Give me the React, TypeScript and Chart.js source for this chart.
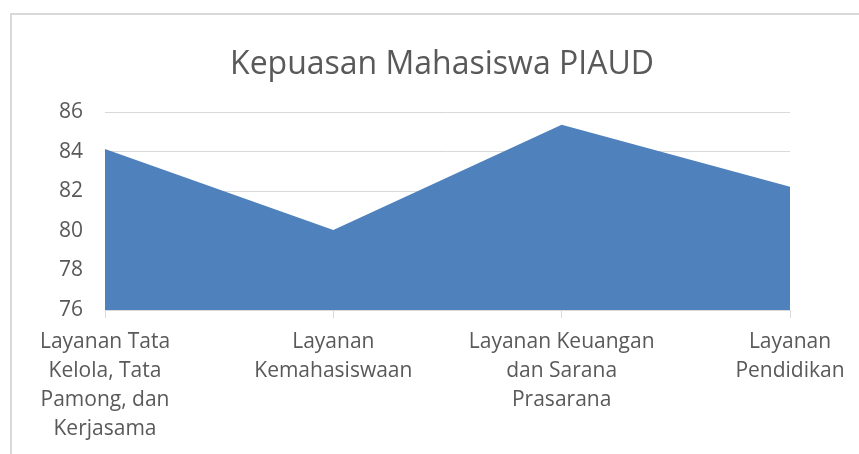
import { useEffect, useRef } from "react";
import { Chart, registerables } from "chart.js";

Chart.register(...registerables);

const chartTitle = "Kepuasan Mahasiswa PIAUD";
const categories: string[][] = [
  ["Layanan Tata", "Kelola, Tata", "Pamong, dan", "Kerjasama"],
  ["Layanan", "Kemahasiswaan"],
  ["Layanan Keuangan", "dan Sarana", "Prasarana"],
  ["Layanan", "Pendidikan"],
];
const values = [84.15, 80.05, 85.38, 82.24];
const yTicks = [76, 78, 80, 82, 84, 86];

const FONT = "'Open Sans', 'Noto Sans', sans-serif";
const TEXT = "#595959";
const GRID = "#d9d9d9";

const titleShift = {
  id: "titleShift",
  afterLayout(chart: any) {
    const t = chart.titleBlock;
    if (t) {
      t.left += 17;
      t.right += 17;
    }
  },
};

export default function App() {
  const ref = useRef<HTMLCanvasElement | null>(null);

  useEffect(() => {
    if (!ref.current) return;
    const chart = new Chart(ref.current, {
      type: "line",
      data: {
        labels: categories as any,
        datasets: [
          {
            data: values,
            backgroundColor: "#4f81bd",
            borderWidth: 0,
            borderColor: "#4f81bd",
            pointRadius: 0,
            pointHoverRadius: 0,
            tension: 0,
            fill: "start",
          },
        ],
      },
      plugins: [titleShift],
      options: {
        responsive: false,
        animation: false,
        devicePixelRatio: 1,
        layout: { padding: { left: 60, right: 69, top: 14, bottom: 4 } },
        plugins: {
          legend: { display: false },
          tooltip: { enabled: false },
          title: {
            display: true,
            text: chartTitle,
            color: TEXT,
            font: { family: FONT, size: 32, weight: "normal", lineHeight: 1.2 },
            padding: { top: 32, bottom: 28 },
          },
        },
        scales: {
          x: {
            type: "category",
            offset: false,
            grid: {
              drawOnChartArea: false,
              drawTicks: true,
              tickLength: 8,
              color: GRID,
              lineWidth: 1,
            },
            border: { display: true, color: GRID, width: 1 },
            ticks: {
              color: TEXT,
              font: { family: FONT, size: 21, lineHeight: 1.38 },
              maxRotation: 0,
              minRotation: 0,
              autoSkip: false,
              padding: 10,
            },
            afterFit: (s: any) => {
              s.height = 140;
            },
          },
          y: {
            min: 76,
            max: 86,
            afterBuildTicks: (s: any) => {
              s.ticks = yTicks.map((v) => ({ value: v }));
            },
            grid: { drawTicks: false, color: GRID, lineWidth: 1 },
            border: { display: false },
            ticks: {
              color: TEXT,
              font: { family: FONT, size: 21 },
              padding: 22,
            },
            afterFit: (s: any) => {
              s.width = 45;
            },
          },
        },
      },
    });
    return () => chart.destroy();
  }, []);

  return (
    <div
      style={{
        position: "fixed",
        left: 0,
        top: 0,
        width: 859,
        height: 454,
        overflow: "hidden",
        background: "#ffffff",
      }}
    >
      <div
        style={{
          position: "absolute",
          left: 10,
          top: 13,
          width: 900,
          height: 500,
          border: "2px solid " + GRID,
          boxSizing: "border-box",
        }}
      />
      <canvas
        ref={ref}
        width={859}
        height={454}
        style={{ position: "absolute", left: 0, top: 0 }}
      />
    </div>
  );
}
